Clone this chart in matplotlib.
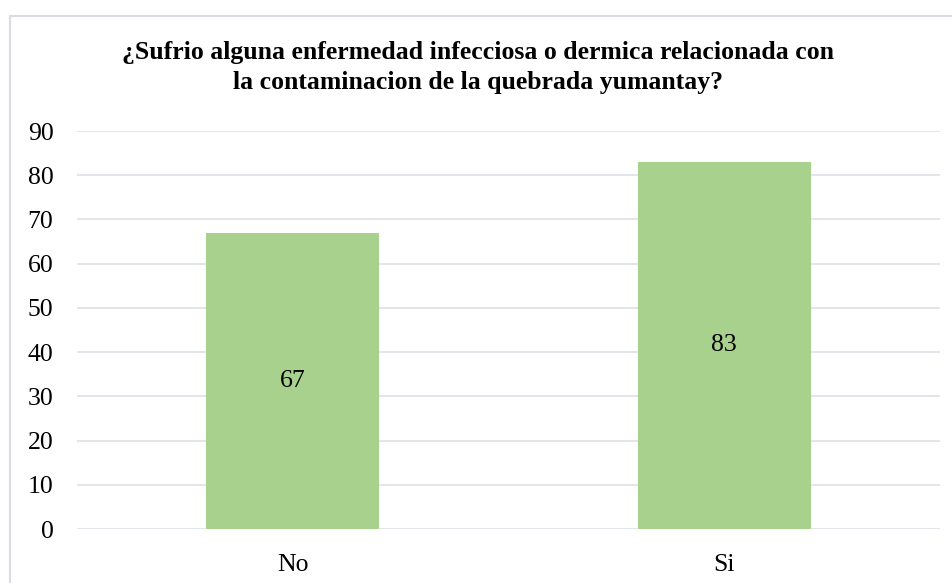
import matplotlib.pyplot as plt
from matplotlib.patches import Rectangle

categories = ["No", "Si"]
values = [67, 83]
yticks = [0, 10, 20, 30, 40, 50, 60, 70, 80, 90]
title = "¿Sufrio alguna enfermedad infecciosa o dermica relacionada con\nla contaminacion de la quebrada yumantay?"

plt.rcParams["font.family"] = ["Liberation Serif", "DejaVu Serif"]

W, H = 952, 583
fig = plt.figure(figsize=(W / 100, H / 100), dpi=100)

# outer chart frame (cut off at right and bottom like the reference)
fig.patches.append(Rectangle((10 / W, -0.1), 1.2, 1 - 16 / H + 0.1,
                             transform=fig.transFigure, fill=False,
                             edgecolor="#d9dde3", linewidth=1.5))

ax = fig.add_axes([77 / W, 1 - 529 / H, (940 - 77) / W, (529 - 131) / H])
x = range(len(categories))
ax.bar(x, values, width=0.4, color="#a9d18e", zorder=2)
for xi, v in zip(x, values):
    ax.text(xi, v / 2, str(v), ha="center", va="center", fontsize=18.5)

ax.set_xlim(-0.5, 1.5)
ax.set_ylim(0, 90)
ax.set_yticks(yticks)
ax.set_xticks(list(x))
ax.set_xticklabels(categories)
ax.tick_params(axis="both", length=0, labelsize=18.5, colors="black")
ax.tick_params(axis="y", pad=17)
ax.tick_params(axis="x", pad=18)
ax.grid(axis="y", color="#dfe3e8", linewidth=1.3, zorder=0)
for s in ax.spines.values():
    s.set_visible(False)

fig.text(478 / W, 1 - 67.5 / H, title, ha="center", va="center",
         fontsize=18.5, fontweight="bold", linespacing=1.38)

fig.savefig("out.png", dpi=100)
